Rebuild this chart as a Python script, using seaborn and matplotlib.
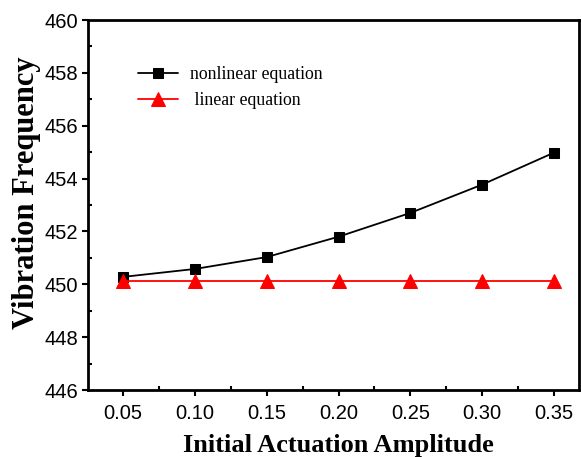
import matplotlib
matplotlib.use("Agg")
import matplotlib.pyplot as plt
import seaborn as sns
import pandas as pd
from matplotlib.ticker import MultipleLocator

amplitude = [0.05, 0.10, 0.15, 0.20, 0.25, 0.30, 0.35]
nonlinear = [450.28, 450.58, 451.03, 451.80, 452.70, 453.77, 454.98]
linear = [450.12, 450.12, 450.12, 450.12, 450.12, 450.12, 450.12]
xtick_labels = ["0.05", "0.10", "0.15", "0.20", "0.25", "0.30", "0.35"]

sns.set_theme(style="ticks")
plt.rcParams['font.family'] = ['Liberation Sans', 'DejaVu Sans']
plt.rcParams['text.color'] = 'black'
plt.rcParams['axes.labelcolor'] = 'black'
plt.rcParams['xtick.color'] = 'black'
plt.rcParams['ytick.color'] = 'black'

fig = plt.figure(figsize=(5.81, 4.57), dpi=100)
ax = fig.add_axes([88/581, 1-390/457, (579-88)/581, (390-20)/457])

df_nl = pd.DataFrame({"x": amplitude, "y": nonlinear})
df_l = pd.DataFrame({"x": amplitude, "y": linear})
sns.lineplot(data=df_nl, x="x", y="y", ax=ax, color="black", marker="s", markersize=7,
             markeredgecolor="black", linewidth=1.3, label="nonlinear equation")
sns.lineplot(data=df_l, x="x", y="y", ax=ax, color="red", marker="^", markersize=9.5,
             markeredgecolor="red", linewidth=1.3, label=" linear equation")

ax.set_xlim(0.0255, 0.3675)
ax.set_ylim(446, 460)
ax.set_xticks(amplitude)
ax.set_xticklabels(xtick_labels)
ax.xaxis.set_minor_locator(MultipleLocator(0.025))
ax.yaxis.set_major_locator(MultipleLocator(2))
ax.yaxis.set_minor_locator(MultipleLocator(1))
ax.tick_params(which="major", direction="out", length=4, width=1.5, labelsize=14.5,
               colors="black", labelcolor="black")
ax.tick_params(axis="x", which="major", pad=6)
ax.tick_params(axis="y", which="major", pad=3)
ax.tick_params(which="minor", direction="in", length=3, width=1.5, colors="black")
for s in ax.spines.values():
    s.set_linewidth(2)
    s.set_color("black")

ax.set_xlabel("Initial Actuation Amplitude", family=["Liberation Serif"], fontweight="bold",
              fontsize=19, color="black")
ax.set_ylabel("Vibration Frequency", family=["Liberation Serif"], fontweight="bold",
              fontsize=22, color="black")
ax.xaxis.set_label_coords(0.510, -0.119)
ax.yaxis.set_label_coords(-0.096, 0.532)

leg = ax.legend(loc="upper left", bbox_to_anchor=(0.102, 0.876), frameon=False,
                prop={"family": "Liberation Serif", "size": 12.8}, handlelength=2.25,
                labelspacing=0.5, borderaxespad=0, borderpad=0, handletextpad=0.67)
for t in leg.get_texts():
    t.set_color("black")

fig.savefig("out.png", dpi=100)
